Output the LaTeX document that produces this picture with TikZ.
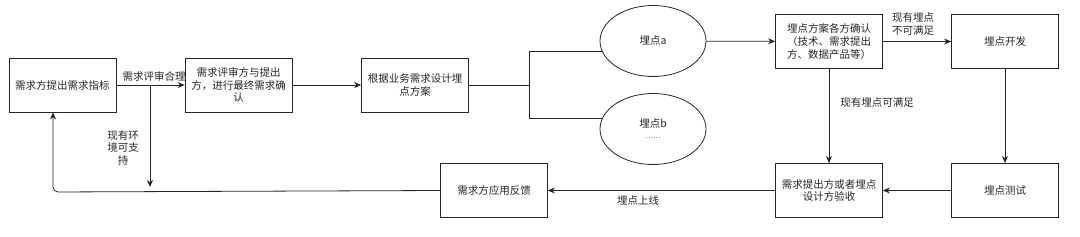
\documentclass[tikz,border=0pt]{standalone}
\usepackage{fontspec}
\setmainfont{Noto Sans CJK SC}
\usetikzlibrary{arrows.meta,shapes.geometric}
\begin{document}
\begin{tikzpicture}[x=1pt,y=-1pt,
  every node/.style={font=\fontsize{10.5}{12.8}\selectfont, text=black!85},
  box/.style={draw=black!85, line width=0.8pt, minimum width=107pt, minimum height=54pt, text width=100pt, align=center, inner sep=1pt},
  oval/.style={draw=black!85, line width=0.8pt, ellipse, minimum width=106pt, minimum height=71pt, align=center, inner sep=0pt},
  conn/.style={draw=black!85, line width=0.8pt},
  arr/.style={conn, -{Stealth[length=7pt,width=6pt]}},
  lbl/.style={align=center, inner sep=0pt}]
\useasboundingbox (0,0) rectangle (1080,236);
\node[box] (b1) at (62.5,85) {需求方提出需求指标};
\node[box] (b2) at (238.5,85) {需求评审方与提出\\方，进行最终需求确\\认};
\node[box] (b3) at (415,85) {根据业务需求设计埋\\点方案};
\node[oval] (ea) at (653,41) {埋点a};
\node[oval] (eb) at (653,129) {埋点b\\[-2pt]{\fontsize{7}{8}\selectfont ……}};
\node[box] (b4) at (829,41.5) {埋点方案各方确认\\（技术、需求提出\\方、数据产品等）};
\node[box] (b5) at (1005,41.5) {埋点开发};
\node[box] (b6) at (829,190.5) {需求提出方或者埋点\\设计方验收};
\node[box] (b7) at (1005,190.5) {埋点测试};
\node[box] (b8) at (494,190.5) {需求方应用反馈};

\draw[arr] (b1) -- (b2) coordinate[pos=0.49] (split);
\node[lbl] (l1) at (154,76) {需求评审合理};
\coordinate (splitend) at (150,187);
\draw[arr] (split -| splitend) -- (splitend);
\node[lbl] (l2) at (123,148) {现有环\\境可支\\持};
\draw[arr] (b2) -- (b3);
\coordinate (br) at (529,85);
\draw[conn] (b3.east) -- (br);
\draw[conn] (br) |- (ea.192);
\draw[conn] (br) |- (eb.168);
\draw[arr] (ea) -- (b4);
\draw[arr] (b4) -- (b5);
\node[lbl] (l3) at (913,24) {现有埋点\\不可满足};
\draw[arr] (b4) -- (b6);
\node[lbl] (l4) at (877,103) {现有埋点可满足};
\draw[arr] (b5) -- (b7);
\draw[arr] (b7) -- (b6);
\draw[arr] (b6) -- (b8);
\node[lbl] (l5) at (638,200) {埋点上线};
\coordinate (corner) at (53,192);
\draw[arr, rounded corners=5pt] (b8.west) -- (corner) -- (b1.south -| corner);
\end{tikzpicture}
\end{document}
